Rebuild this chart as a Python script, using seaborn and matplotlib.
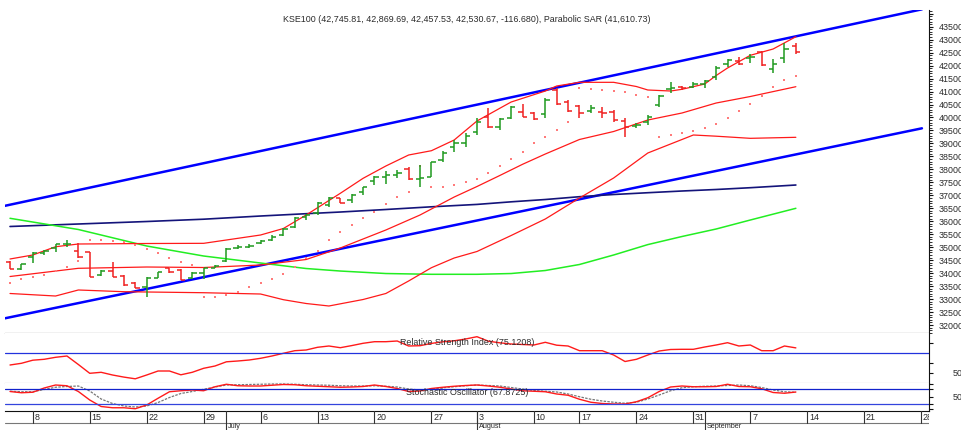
import numpy as np
import pandas as pd
import seaborn as sns
import matplotlib
matplotlib.use('Agg')
import matplotlib.pyplot as plt
from matplotlib.ticker import MultipleLocator, FixedLocator

sns.set_theme(style='white')
plt.rcParams['font.family'] = ['Liberation Sans', 'DejaVu Sans']

# trading days; Jul 31 and Aug 14 were market holidays
holidays = ['2020-07-31', '2020-08-14']
days = pd.bdate_range('2020-06-04', '2020-09-30')
days = days[~days.isin(pd.to_datetime(holidays))]

opens = [34440, 34147, 34610, 34764, 34957, 35111, 34853, 34826, 33928, 34093,
         33901, 33608, 33476, 33823, 34186, 34120, 33800, 33993, 34209, 34479,
         34957, 35019, 35149, 35277, 35470, 35767, 36175, 36306, 36626, 36884,
         36819, 37139, 37563, 37717, 37783, 38014, 37617, 37717, 38361, 38874,
         39005, 39452, 40030, 39645, 39969, 40200, 40184, 40123, 41060, 40608,
         40454, 40250, 40223, 40223, 39876, 39683, 39837, 40481, 41086, 41187,
         41187, 41279, 41572, 42050, 42177, 42282, 42536, 41869, 42305, 42745.81]
highs = [34460, 34363, 34803, 34891, 35123, 35277, 35149, 34826, 34120, 34417,
         33928, 33646, 33862, 34055, 34186, 34150, 34055, 34186, 34316, 34957,
         35084, 35111, 35277, 35470, 35751, 36175, 36279, 36753, 36946, 36900,
         37039, 37332, 37744, 37949, 37976, 38079, 38168, 38295, 38708, 39132,
         39390, 39969, 40385, 39969, 40454, 40508, 40223, 40739, 41125, 40674,
         40481, 40481, 40416, 40288, 39969, 39776, 40096, 40867, 41356, 41214,
         41356, 41445, 42000, 42255, 42343, 42436, 42563, 42243, 42860, 42869.69]
lows = [34147, 34120, 34379, 34699, 34826, 34995, 34571, 33839, 33901, 33839,
        33515, 33415, 33091, 33800, 33993, 33735, 33780, 33762, 34186, 34440,
        34930, 34980, 35123, 35250, 35431, 35728, 36048, 36241, 36561, 36692,
        36715, 37012, 37397, 37424, 37655, 37590, 37332, 37694, 38295, 38681,
        38874, 39325, 39606, 39517, 39930, 40030, 39903, 39969, 40481, 40223,
        39969, 40161, 39969, 39837, 39259, 39583, 39710, 40404, 40932, 41060,
        41125, 41148, 41445, 41958, 42023, 42089, 41996, 41703, 42089, 42457.53]
closes = [34147, 34363, 34787, 34853, 35111, 35123, 34633, 33860, 34093, 33862,
          33542, 33438, 33800, 34055, 34055, 33735, 33993, 34186, 34286, 34918,
          35019, 35045, 35238, 35404, 35701, 36136, 36241, 36692, 36915, 36692,
          37012, 37309, 37694, 37783, 37848, 37617, 37655, 38295, 38642, 39005,
          39298, 39838, 39645, 39941, 40416, 40030, 39930, 40674, 40508, 40262,
          40161, 40354, 40161, 39903, 39645, 39710, 40030, 40828, 41148, 41125,
          41279, 41406, 41919, 42216, 42050, 42343, 42023, 42050, 42647.35, 42530.67]

sar = [33638, 33773, 33839, 33928, 34082, 34255, 34467, 35277, 35277, 35238,
       35188, 35084, 34930, 34764, 34572, 34440, 34313, 33091, 33091, 33157,
       33284, 33453, 33607, 33762, 33966, 34248, 34572, 34865, 35258, 35597,
       35855, 36113, 36368, 36653, 36923, 37139, 38149, 37309, 37339, 37397,
       37513, 37648, 37871, 38130, 38399, 38681, 39005, 39259, 39517, 39826,
       41125, 41102, 41079, 41040, 40982, 40882, 40790, 39259, 39325, 39413,
       39490, 39606, 39737, 39968, 40250, 40520, 40828, 41164, 41445, 41610.73]

# Bollinger bands, read at these bar numbers
upper_idx = [0, 2, 4, 6, 12, 17, 22, 24, 26, 29, 31, 33, 35, 37, 39, 41, 43, 44,
             47, 48, 50, 53, 55, 56, 58, 59, 61, 62, 63, 65, 67, 69]
bb_upper = [34545, 34699, 35018, 35123, 35142, 35149, 35470, 35720, 36241, 37077,
            37655, 38130, 38554, 38719, 39132, 39865, 40354, 40597, 41021, 41214,
            41356, 41356, 41194, 41060, 41021, 41087, 41291, 41618, 41908, 42397,
            42640, 43114]
mid_idx = [0, 6, 12, 17, 22, 26, 29, 33, 36, 39, 41, 43, 45, 47, 50, 53, 56, 59,
           62, 65, 69]
bb_mid = [33870, 34186, 34236, 34217, 34313, 34525, 34969, 35663, 36241, 36934,
          37339, 37763, 38195, 38592, 39152, 39460, 39903, 40173, 40558, 40809,
          41187]
lower_idx = [0, 4, 6, 10, 17, 22, 24, 26, 28, 31, 33, 35, 37, 39, 41, 44, 47, 50,
             53, 56, 58, 60, 62, 65, 69]
bb_lower = [33215, 33118, 33350, 33284, 33245, 33195, 32976, 32829, 32733, 32983,
            33215, 33697, 34209, 34583, 34834, 35450, 36087, 36896, 37667, 38631,
            38978, 39325, 39279, 39197, 39236]

# moving averages
ma_idx = [0, 6, 12, 17, 22, 26, 29, 33, 37, 41, 44, 47, 50, 53, 56, 59, 62, 65, 69]
ma_green = [36114, 35682, 35046, 34660, 34390, 34178, 34081, 33985, 33955, 33955,
            33985, 34101, 34333, 34699, 35100, 35412, 35701, 36048, 36499]
ma_navy = [35798, 35894, 35990, 36079, 36202, 36291, 36356, 36453, 36557, 36649,
           36749, 36838, 36946, 37031, 37100, 37166, 37224, 37293, 37397]

# channel trendlines (anchor bar number, price)
chan_idx = [-0.44, 80.07]
chan_upper = [36596, 44170]
chan_lower = [32259, 39583]

rsi = [58, 59.7, 62.8, 63.7, 65.7, 67, 58.5, 49.7, 50.7, 48,
       45.9, 44.2, 48, 52, 52, 48.2, 50.7, 54.7, 57, 61.2,
       62, 63, 64.7, 67, 69.7, 72.3, 73, 75.7, 77, 75.3,
       77.4, 79.7, 81.3, 81.3, 82, 77, 77.3, 79.6, 81.2, 82.2,
       84, 86.3, 81.8, 80.2, 79, 78.5, 78, 80.7, 77.8, 77,
       72.3, 72.3, 72.3, 68, 61.5, 63.7, 68, 72, 73.5, 73.7,
       73.7, 76, 78, 80.3, 77, 78, 72.3, 72.3, 77, 75.1208]
stoch_k = [70, 65, 67, 84, 96, 93, 70, 36, 10, 5,
           5, 1, 16, 43, 69, 73, 76, 73, 89, 99,
           93, 92, 92, 95, 98, 97, 93, 91, 89, 87,
           88, 90, 96, 90, 82, 70, 72, 82, 87, 91,
           94, 96, 92, 87, 80, 73, 71, 69, 60, 55,
           39, 27, 22, 20, 20, 29, 45, 70, 88, 92,
           89, 89, 90, 99, 90, 89, 81, 66, 63, 67.8725]
stoch_d = [71, 69, 69, 78, 87, 90, 92, 72, 40, 22,
           12, 8, 12, 26, 46, 62, 70, 79, 88, 96,
           97, 98, 99, 100, 100, 99, 97, 96, 95, 93,
           92, 92, 93, 91, 88, 80, 76, 79, 85, 89,
           93, 96, 94, 92, 86, 80, 74, 71, 68, 60,
           49, 39, 32, 27, 23, 27, 40, 56, 73, 85,
           89, 91, 92, 94, 96, 93, 86, 76, 69, 67]

title = ('KSE100 (42,745.81, 42,869.69, 42,457.53, 42,530.67, -116.680), '
         'Parabolic SAR (41,610.73)')

W, H = 962, 430
fig = plt.figure(figsize=(W / 100, H / 100), dpi=100)
fig.patch.set_facecolor('white')


def box(x0, y0, x1, y1):
    return [x0 / W, 1 - y1 / H, (x1 - x0) / W, (y1 - y0) / H]


ax = fig.add_axes(box(5, 10, 929, 333))
ax_r = fig.add_axes(box(5, 333, 929, 383))
ax_s = fig.add_axes(box(5, 383, 929, 411))
ax_d = fig.add_axes(box(5, 411, 929, 430))

xlo, xhi = -0.44, 80.69
txt = '#2a2a2a'
fs = 6.4

# ---- price panel
idx = np.arange(len(opens))
o = np.array(opens); c = np.array(closes)
cols = np.where(c >= o, '#1f9a1f', '#f02020')

sns.lineplot(x=chan_idx, y=chan_upper, ax=ax, color='#0000ff', lw=1.8)
sns.lineplot(x=chan_idx, y=chan_lower, ax=ax, color='#0000ff', lw=1.8)
sns.lineplot(x=ma_idx, y=ma_navy, ax=ax, color='#14147a', lw=1.2)
sns.lineplot(x=ma_idx, y=ma_green, ax=ax, color='#22ee22', lw=1.1)
sns.lineplot(x=upper_idx, y=bb_upper, ax=ax, color='#ff1a1a', lw=0.9)
sns.lineplot(x=mid_idx, y=bb_mid, ax=ax, color='#ff1a1a', lw=0.9)
sns.lineplot(x=lower_idx, y=bb_lower, ax=ax, color='#ff1a1a', lw=0.9)

ax.vlines(idx, lows, highs, colors=cols, lw=1.1, zorder=4)
ax.hlines(opens, idx - 0.38, idx, colors=cols, lw=1.1, zorder=4)
ax.hlines(closes, idx, idx + 0.38, colors=cols, lw=1.1, zorder=4)
sns.scatterplot(x=idx, y=sar, ax=ax, color='#ff7b7b', s=3, marker='s',
                linewidth=0, zorder=3)

ax.set_xlim(xlo, xhi)
ax.set_ylim(31692, 44144)
ax.text(0.5, 0.972, title, transform=ax.transAxes, ha='center', va='center',
        fontsize=fs, color=txt)

# ---- RSI panel
sns.lineplot(x=idx, y=rsi, ax=ax_r, color='#ff1a1a', lw=1.0)
ax_r.axhline(70, color='#2233dd', lw=0.9)
ax_r.set_xlim(xlo, xhi)
ax_r.set_ylim(40, 90)
ax_r.text(0.5, 0.81, 'Relative Strength Index (75.1208)', transform=ax_r.transAxes,
          ha='center', va='center', fontsize=fs, color=txt)

# ---- Stochastic panel
sns.lineplot(x=idx, y=stoch_d, ax=ax_s, color='#777777', lw=0.9, linestyle=(0, (2, 1)))
sns.lineplot(x=idx, y=stoch_k, ax=ax_s, color='#ff1a1a', lw=1.0)
ax_s.axhline(80, color='#1122cc', lw=0.9)
ax_s.axhline(20, color='#3344dd', lw=0.9)
ax_s.set_xlim(xlo, xhi)
ax_s.set_ylim(-8, 104)
ax_s.text(0.5, 0.65, 'Stochastic Oscillator (67.8725)', transform=ax_s.transAxes,
          ha='center', va='center', fontsize=fs, color=txt)

for a in (ax, ax_r, ax_s):
    a.set_xlabel(''); a.set_ylabel('')
    a.set_xticks([])
    a.yaxis.tick_right()
    a.set_facecolor('white')
    for s in ('left', 'top'):
        a.spines[s].set_visible(False)
    a.spines['right'].set_color('#111111')
    a.spines['right'].set_linewidth(0.8)
    a.spines['bottom'].set_linewidth(0.8)
    a.grid(False)

ax.spines['bottom'].set_color('#111111')
ax_r.spines['bottom'].set_color('#999999')
ax_s.spines['bottom'].set_color('#111111')

price_ticks = list(range(32000, 44001, 500))
ax.yaxis.set_major_locator(FixedLocator(price_ticks))
ax.set_yticklabels([str(t) if t < 44000 else '' for t in price_ticks])
ax.yaxis.set_minor_locator(MultipleLocator(100))
ax.tick_params(axis='y', which='major', length=3, width=0.8, color='#111111',
               labelsize=fs, labelcolor=txt, pad=4)
ax.tick_params(axis='y', which='minor', length=1.8, width=0.6, color='#111111')

ax_r.yaxis.set_major_locator(FixedLocator([50, 60, 80]))
ax_r.set_yticklabels(['50', '', ''])
ax_r.tick_params(axis='y', length=3, width=0.8, color='#111111', labelsize=fs,
                 labelcolor=txt, pad=14)
ax_s.yaxis.set_major_locator(FixedLocator([0, 20, 50, 80, 100]))
ax_s.set_yticklabels(['', '', '50', '', ''])
ax_s.tick_params(axis='y', length=3, width=0.8, color='#111111', labelsize=fs,
                 labelcolor=txt, pad=14)

# ---- date strip
ax_d.set_xlim(xlo, xhi)
ax_d.set_ylim(0, 1)
ax_d.axis('off')
ax_d.axhline(0.37, color='#777777', lw=0.8)
month_names = {7: 'July', 8: 'August', 9: 'September'}
prev_month = days[0].month
for i, d in enumerate(days):
    if i > xhi:
        break
    if d.month != prev_month:
        ax_d.plot([i, i], [0, 1], color='#333333', lw=0.8)
        ax_d.text(i + 0.15, 0.0, month_names[d.month], ha='left', va='bottom',
                  fontsize=5.2, color=txt)
        prev_month = d.month
    if d.weekday() == 0:
        ax_d.plot([i, i], [0.37, 1], color='#333333', lw=0.8)
        ax_d.text(i + 0.15, 0.68, str(d.day), ha='left', va='center',
                  fontsize=fs, color=txt, clip_on=True)

fig.savefig('out.png', dpi=100, facecolor='white')
